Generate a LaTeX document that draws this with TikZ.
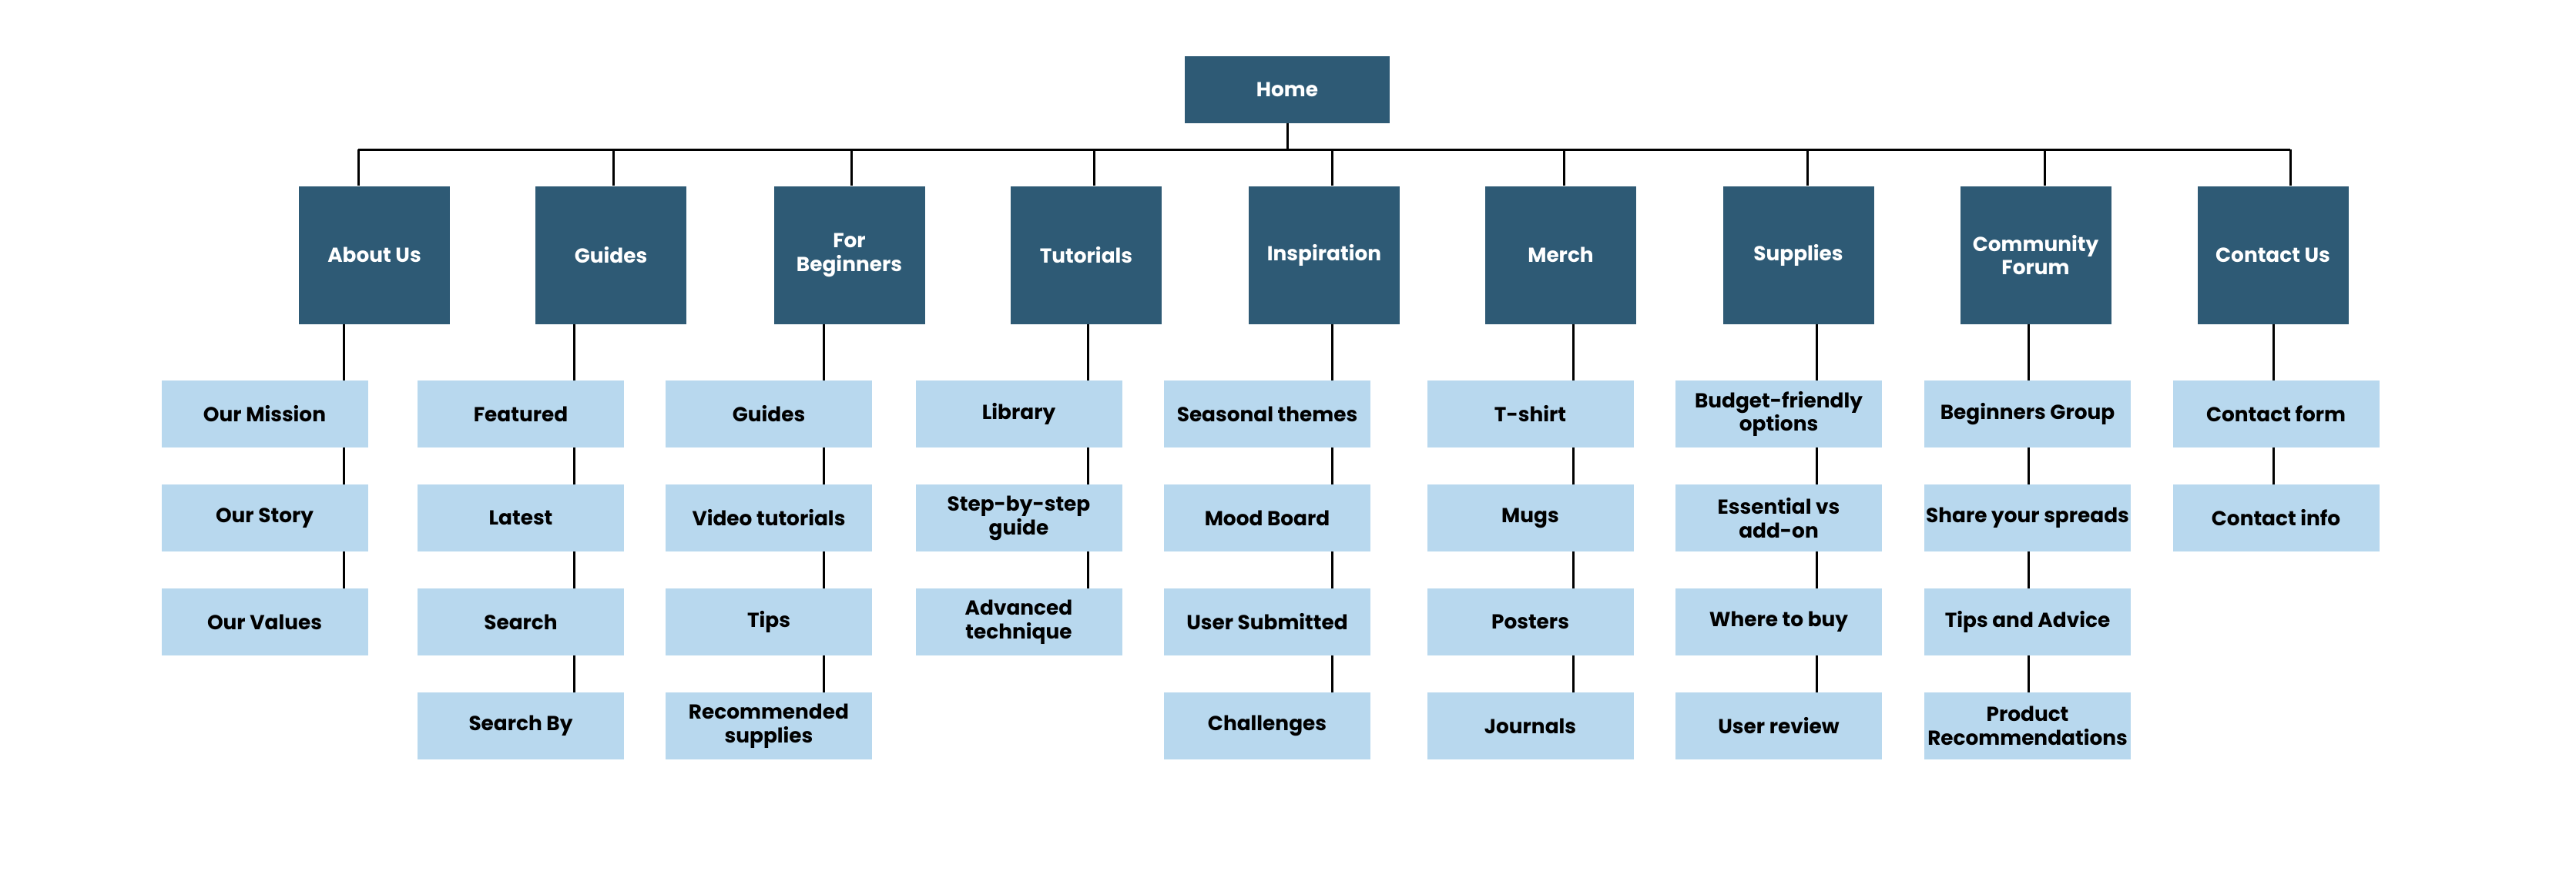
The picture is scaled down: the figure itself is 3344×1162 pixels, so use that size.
\documentclass[tikz,border=0pt]{standalone}
\usepackage{fontspec}
\setmainfont{Poppins}
\definecolor{darkbox}{HTML}{2E5A75}
\definecolor{lightbox}{HTML}{B8D8EE}
\begin{document}
\begin{tikzpicture}[x=0.2mm,y=-0.2mm,
  every node/.style={inner sep=0pt,align=center,font=\bfseries\fontsize{15}{17.5}\selectfont},
  homebox/.style={rectangle,fill=darkbox,text=white,minimum width=53.2mm,minimum height=17.4mm},
  topbox/.style={rectangle,fill=darkbox,text=white,minimum width=39.2mm,minimum height=35.8mm},
  subbox/.style={rectangle,fill=lightbox,text=black,minimum width=53.6mm,minimum height=17.4mm},
  conn/.style={draw=black,line width=0.6mm}]
\useasboundingbox (0,0) rectangle (3344,1162);

\node[homebox] (home) at (1671,116.5) {Home};

% level 1
\node[topbox] (a1) at (486,331)    {About Us};
\node[topbox] (a2) at (793,331)    {Guides};
\node[topbox] (a3) at (1102.5,331) {For\\Beginners};
\node[topbox] (a4) at (1410,331)   {Tutorials};
\node[topbox] (a5) at (1719,331)   {Inspiration};
\node[topbox] (a6) at (2026,331)   {Merch};
\node[topbox] (a7) at (2334.5,331) {Supplies};
\node[topbox] (a8) at (2642.5,331) {Community\\Forum};
\node[topbox] (a9) at (2950.5,331) {Contact Us};

% level 2
\node[subbox] (c1-1) at (343.5,537.5) {Our Mission};
\node[subbox] (c1-2) at (343.5,672.5) {Our Story};
\node[subbox] (c1-3) at (343.5,807.5) {Our Values};

\node[subbox] (c2-1) at (676,537.5) {Featured};
\node[subbox] (c2-2) at (676,672.5) {Latest};
\node[subbox] (c2-3) at (676,807.5) {Search};
\node[subbox] (c2-4) at (676,942.5) {Search By};

\node[subbox] (c3-1) at (998,537.5) {Guides};
\node[subbox] (c3-2) at (998,672.5) {Video tutorials};
\node[subbox] (c3-3) at (998,807.5) {Tips};
\node[subbox] (c3-4) at (998,942.5) {Recommended\\supplies};

\node[subbox] (c4-1) at (1322.5,537.5) {Library};
\node[subbox] (c4-2) at (1322.5,672.5) {Step-by-step\\guide};
\node[subbox] (c4-3) at (1322.5,807.5) {Advanced\\technique};

\node[subbox] (c5-1) at (1645,537.5) {Seasonal themes};
\node[subbox] (c5-2) at (1645,672.5) {Mood Board};
\node[subbox] (c5-3) at (1645,807.5) {User Submitted};
\node[subbox] (c5-4) at (1645,942.5) {Challenges};

\node[subbox] (c6-1) at (1986.5,537.5) {T-shirt};
\node[subbox] (c6-2) at (1986.5,672.5) {Mugs};
\node[subbox] (c6-3) at (1986.5,807.5) {Posters};
\node[subbox] (c6-4) at (1986.5,942.5) {Journals};

\node[subbox] (c7-1) at (2309,537.5) {Budget-friendly\\options};
\node[subbox] (c7-2) at (2309,672.5) {Essential vs\\add-on};
\node[subbox] (c7-3) at (2309,807.5) {Where to buy};
\node[subbox] (c7-4) at (2309,942.5) {User review};

\node[subbox] (c8-1) at (2632,537.5) {Beginners Group};
\node[subbox] (c8-2) at (2632,672.5) {Share your spreads};
\node[subbox] (c8-3) at (2632,807.5) {Tips and Advice};
\node[subbox] (c8-4) at (2632,942.5) {Product\\Recommendations};

\node[subbox] (c9-1) at (2954.5,537.5) {Contact form};
\node[subbox] (c9-2) at (2954.5,672.5) {Contact info};

% bus
\coordinate (busL) at (465,194);
\coordinate (busR) at (2973,194);
\draw[conn] (busL) -- (busR);
\draw[conn] (home.south) -- (home.south |- busL);

% bus to level 1
\foreach \i/\tx in {1/465,2/796,3/1105,4/1420,5/1729,6/2030,7/2346,8/2654,9/2973}{
  \coordinate (b\i) at (\tx,194);
  \draw[conn] (b\i) -- (b\i |- a\i.north);
}

% level 1 to level 2 chains
\foreach \i/\bx/\n in {1/446/3,2/745/4,3/1069/4,4/1412/3,5/1729/4,6/2042/4,7/2358/4,8/2633/4,9/2951/2}{
  \coordinate (k\i) at (\bx,0);
  \draw[conn] (a\i.south -| k\i) -- (c\i-1.north -| k\i);
  \pgfmathtruncatemacro\m{\n-1}
  \foreach \j in {1,...,\m}{
    \pgfmathtruncatemacro\jj{\j+1}
    \draw[conn] (c\i-\j.south -| k\i) -- (c\i-\jj.north -| k\i);
  }
}
\end{tikzpicture}
\end{document}
